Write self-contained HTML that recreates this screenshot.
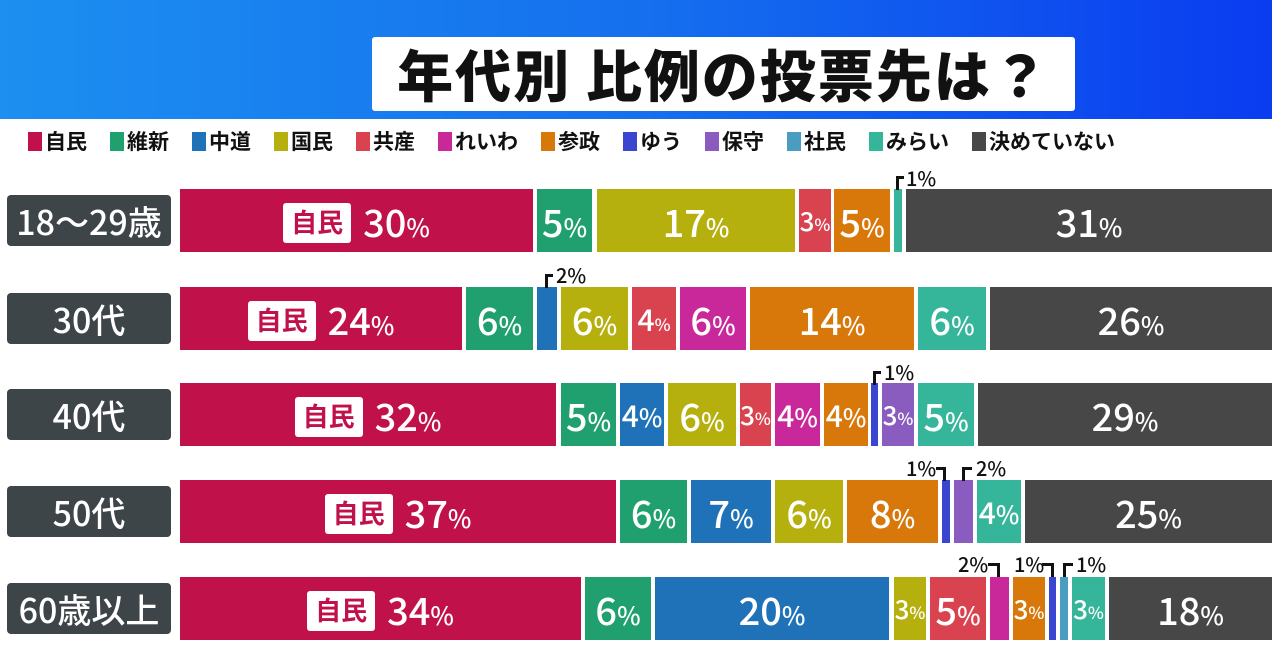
<!DOCTYPE html>
<html><head><meta charset="utf-8"><style>
*{margin:0;padding:0;box-sizing:border-box}
body{width:1272px;height:657px;overflow:hidden;background:#fff;position:relative;font-family:"Liberation Sans","Noto Sans CJK JP",sans-serif}
.hdr{position:absolute;left:0;top:0;width:1272px;height:119px;background:linear-gradient(90deg,#1c8ff0 0%,#1570ee 50%,#0a3cf0 100%)}
.title{position:absolute;left:372px;top:37px;width:703px;height:74px;background:#fff;border-radius:3px;font-family:"Noto Sans CJK JP",sans-serif;font-weight:900;font-size:56px;line-height:74px;text-align:center;color:#111;letter-spacing:2px}
.leg{position:absolute;top:126px;left:28px;font-family:"Noto Sans CJK JP",sans-serif;font-weight:700;font-size:21px;color:#111;white-space:nowrap;display:flex;gap:23px}
.leg span{display:flex;align-items:center}
.leg i{display:inline-block;width:14px;height:19px;margin-right:3px}
.row{position:absolute;left:0;width:1272px;height:63px}
.lab{position:absolute;left:7px;top:6px;width:164px;height:51px;background:#3e4549;border-radius:4px;color:#fff;font-family:"Noto Sans CJK JP",sans-serif;font-weight:500;font-size:34px;line-height:51px;text-align:center}
.s{position:absolute;top:0;height:63px;color:#fff;font-family:"Noto Sans CJK JP",sans-serif;font-weight:500;font-size:38px;line-height:63px;text-align:center;white-space:nowrap;overflow:visible}
.s small{font-size:25px}
.sm{font-size:26px}.sm small{font-size:17px}
.jm{display:inline-block;background:#fff;color:#c0114a;font-size:26px;line-height:38px;height:40px;padding:0 8px;border-radius:3px;vertical-align:middle;margin-right:12px;position:relative;top:-4px;font-weight:700}
.co{position:absolute;font-family:"Noto Sans CJK JP",sans-serif;font-size:20px;font-weight:500;color:#111;line-height:20px}
.br{position:absolute;border-top:3px solid #111;height:14px}
.bl{border-left:3px solid #111}.brr{border-right:3px solid #111}
</style></head><body>
<div class="hdr"></div>
<div class="title">年代別 比例の投票先は？</div>
<div class="leg">
<span><i style="background:#c0114a"></i>自民</span><span><i style="background:#1fa06e"></i>維新</span><span><i style="background:#1f72b8"></i>中道</span><span><i style="background:#b5b00e"></i>国民</span><span><i style="background:#d9434f"></i>共産</span><span><i style="background:#c9289a"></i>れいわ</span><span><i style="background:#d9780a"></i>参政</span><span><i style="background:#3a46d0"></i>ゆう</span><span><i style="background:#8a5cc0"></i>保守</span><span><i style="background:#4a9cc0"></i>社民</span><span><i style="background:#35b59a"></i>みらい</span><span><i style="background:#474747"></i>決めていない</span>
</div>

<div class="row" style="top:189px">
<div class="lab">18～29歳</div>
<div class="s" style="left:180px;width:353px;background:#c0114a"><span class="jm">自民</span>30<small>%</small></div>
<div class="s" style="left:537px;width:55px;background:#1fa06e">5<small>%</small></div>
<div class="s" style="left:597px;width:198px;background:#b5b00e">17<small>%</small></div>
<div class="s sm" style="left:799px;width:32px;background:#d9434f">3<small>%</small></div>
<div class="s" style="left:834px;width:56px;background:#d9780a">5<small>%</small></div>
<div class="s" style="left:894px;width:8px;background:#35b59a"></div>
<div class="s" style="left:906px;width:366px;background:#474747">31<small>%</small></div>
</div>
<div class="br bl" style="left:896px;top:176px;width:8px"></div><div class="co" style="left:906px;top:168px">1%</div>

<div class="row" style="top:287px">
<div class="lab">30代</div>
<div class="s" style="left:180px;width:282px;background:#c0114a"><span class="jm">自民</span>24<small>%</small></div>
<div class="s" style="left:466px;width:67px;background:#1fa06e">6<small>%</small></div>
<div class="s" style="left:537px;width:20px;background:#1f72b8"></div>
<div class="s" style="left:561px;width:67px;background:#b5b00e">6<small>%</small></div>
<div class="s sm" style="left:632px;width:44px;background:#d9434f;font-size:30px">4<small>%</small></div>
<div class="s" style="left:680px;width:66px;background:#c9289a">6<small>%</small></div>
<div class="s" style="left:750px;width:164px;background:#d9780a">14<small>%</small></div>
<div class="s" style="left:918px;width:68px;background:#35b59a">6<small>%</small></div>
<div class="s" style="left:990px;width:282px;background:#474747">26<small>%</small></div>
</div>
<div class="br bl" style="left:545px;top:274px;width:8px"></div><div class="co" style="left:556px;top:265px">2%</div>

<div class="row" style="top:383px">
<div class="lab">40代</div>
<div class="s" style="left:180px;width:376px;background:#c0114a"><span class="jm">自民</span>32<small>%</small></div>
<div class="s" style="left:561px;width:55px;background:#1fa06e">5<small>%</small></div>
<div class="s" style="left:620px;width:44px;background:#1f72b8;font-size:30px">4<small>%</small></div>
<div class="s" style="left:668px;width:68px;background:#b5b00e">6<small>%</small></div>
<div class="s sm" style="left:740px;width:31px;background:#d9434f">3<small>%</small></div>
<div class="s" style="left:775px;width:45px;background:#c9289a;font-size:30px">4<small>%</small></div>
<div class="s" style="left:824px;width:44px;background:#d9780a;font-size:30px">4<small>%</small></div>
<div class="s" style="left:871px;width:7px;background:#3a46d0"></div>
<div class="s sm" style="left:882px;width:32px;background:#8a5cc0">3<small>%</small></div>
<div class="s" style="left:918px;width:56px;background:#35b59a">5<small>%</small></div>
<div class="s" style="left:978px;width:294px;background:#474747">29<small>%</small></div>
</div>
<div class="br bl" style="left:873px;top:371px;width:8px"></div><div class="co" style="left:884px;top:362px">1%</div>

<div class="row" style="top:480px">
<div class="lab">50代</div>
<div class="s" style="left:180px;width:436px;background:#c0114a"><span class="jm">自民</span>37<small>%</small></div>
<div class="s" style="left:620px;width:67px;background:#1fa06e">6<small>%</small></div>
<div class="s" style="left:691px;width:80px;background:#1f72b8">7<small>%</small></div>
<div class="s" style="left:775px;width:68px;background:#b5b00e">6<small>%</small></div>
<div class="s" style="left:847px;width:91px;background:#d9780a">8<small>%</small></div>
<div class="s" style="left:942px;width:8px;background:#3a46d0"></div>
<div class="s" style="left:954px;width:19px;background:#8a5cc0"></div>
<div class="s" style="left:977px;width:44px;background:#35b59a;font-size:30px">4<small>%</small></div>
<div class="s" style="left:1025px;width:247px;background:#474747">25<small>%</small></div>
</div>
<div class="co" style="left:906px;top:458px">1%</div><div class="br brr" style="left:936px;top:467px;width:10px"></div>
<div class="br bl" style="left:962px;top:467px;width:10px"></div><div class="co" style="left:976px;top:458px">2%</div>

<div class="row" style="top:577px">
<div class="lab">60歳以上</div>
<div class="s" style="left:180px;width:401px;background:#c0114a"><span class="jm">自民</span>34<small>%</small></div>
<div class="s" style="left:585px;width:66px;background:#1fa06e">6<small>%</small></div>
<div class="s" style="left:655px;width:234px;background:#1f72b8">20<small>%</small></div>
<div class="s sm" style="left:894px;width:32px;background:#b5b00e">3<small>%</small></div>
<div class="s" style="left:930px;width:56px;background:#d9434f">5<small>%</small></div>
<div class="s" style="left:990px;width:19px;background:#c9289a"></div>
<div class="s sm" style="left:1013px;width:32px;background:#d9780a">3<small>%</small></div>
<div class="s" style="left:1049px;width:7px;background:#3a46d0"></div>
<div class="s" style="left:1060px;width:8px;background:#4a9cc0"></div>
<div class="s sm" style="left:1072px;width:33px;background:#35b59a">3<small>%</small></div>
<div class="s" style="left:1109px;width:163px;background:#474747">18<small>%</small></div>
</div>
<div class="co" style="left:958px;top:554px">2%</div><div class="br brr" style="left:988px;top:563px;width:12px"></div>
<div class="co" style="left:1014px;top:554px">1%</div><div class="br brr" style="left:1042px;top:563px;width:12px"></div>
<div class="br bl" style="left:1063px;top:563px;width:10px"></div><div class="co" style="left:1076px;top:554px">1%</div>
</body></html>
